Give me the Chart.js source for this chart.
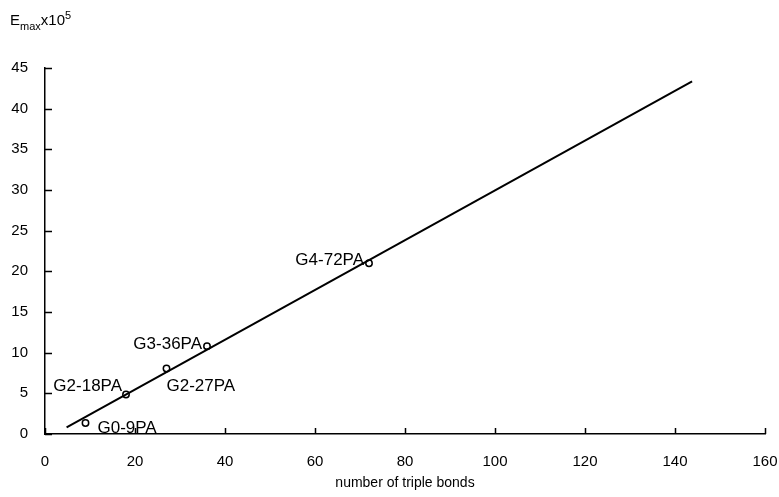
<!DOCTYPE html>
<html>
<head>
<meta charset="utf-8">
<script src="https://cdn.jsdelivr.net/npm/chart.js@4"></script>
<style>
  html, body { margin: 0; padding: 0; background: #fff; }
  #wrap { width: 779px; height: 497px; }
</style>
</head>
<body>
<div id="wrap"><canvas id="chart"></canvas></div>
<script>
// measured points
const sampleNames = ['G0-9PA', 'G2-18PA', 'G2-27PA', 'G3-36PA', 'G4-72PA'];
const tripleBonds = [9, 18, 27, 36, 72];
const emaxValues = [1.35, 4.85, 8.05, 10.8, 21.0];

// fitted line ends
const fitX = [4.8, 143.8];
const fitY = [0.8, 43.35];

const xTicks = [0, 20, 40, 60, 80, 100, 120, 140, 160];
const yTicks = [0, 5, 10, 15, 20, 25, 30, 35, 40, 45];

const FONT = '"Liberation Sans", Arial, sans-serif';

// where each label sits relative to its point: [dx, dy, align]
const labelPlace = [
  [12, 5, 'left'],
  [-4, -8, 'right'],
  [0, 18, 'left'],
  [-5, -2, 'right'],
  [-5, -2.5, 'right']
];

const extras = {
  id: 'extras',
  afterDraw(chart) {
    const ctx = chart.ctx;
    const xs = chart.scales.x, ys = chart.scales.y;
    const area = chart.chartArea;
    ctx.save();
    ctx.strokeStyle = '#000';
    ctx.lineWidth = 1.5;
    // inward ticks
    ctx.beginPath();
    xTicks.forEach(v => {
      const px = Math.round(xs.getPixelForValue(v)) + 0.5;
      ctx.moveTo(px, area.bottom);
      ctx.lineTo(px, area.bottom - 6);
    });
    yTicks.forEach(v => {
      const py = Math.round(ys.getPixelForValue(v)) + 0.5;
      ctx.moveTo(area.left, py);
      ctx.lineTo(area.left + 7, py);
    });
    ctx.stroke();

    // point labels
    ctx.fillStyle = '#000';
    ctx.font = '17px ' + FONT;
    ctx.textBaseline = 'middle';
    sampleNames.forEach((name, i) => {
      const px = xs.getPixelForValue(tripleBonds[i]);
      const py = ys.getPixelForValue(emaxValues[i]);
      const p = labelPlace[i];
      ctx.textAlign = p[2];
      ctx.fillText(name, px + p[0], py + p[1]);
    });

    // y axis title: E_max x10^5
    ctx.textAlign = 'left';
    ctx.textBaseline = 'alphabetic';
    let x = 10;
    ctx.font = '15px ' + FONT;
    ctx.fillText('E', x, 25);
    x += ctx.measureText('E').width;
    ctx.font = '11px ' + FONT;
    ctx.fillText('max', x, 30);
    x += ctx.measureText('max').width;
    ctx.font = '15px ' + FONT;
    ctx.fillText('x10', x, 25);
    x += ctx.measureText('x10').width;
    ctx.font = '11px ' + FONT;
    ctx.fillText('5', x, 19);
    ctx.restore();
  }
};

new Chart(document.getElementById('chart'), {
  type: 'scatter',
  data: {
    datasets: [
      {
        type: 'line',
        data: fitX.map((v, i) => ({ x: v, y: fitY[i] })),
        borderColor: '#000',
        borderWidth: 2,
        pointRadius: 0,
        fill: false
      },
      {
        data: tripleBonds.map((v, i) => ({ x: v, y: emaxValues[i] })),
        pointRadius: 3.2,
        pointBorderWidth: 1.5,
        pointBackgroundColor: '#fff',
        pointBorderColor: '#000'
      }
    ]
  },
  options: {
    responsive: true,
    maintainAspectRatio: false,
    animation: false,
    layout: { padding: { top: 68, right: 14, left: 0, bottom: 0 } },
    plugins: { legend: { display: false }, tooltip: { enabled: false } },
    scales: {
      x: {
        type: 'linear',
        min: 0, max: 160,
        afterBuildTicks: s => { s.ticks = xTicks.map(v => ({ value: v })); },
        afterFit: s => { s.height = 63; s.paddingLeft = 0; s.paddingRight = 0; },
        grid: { display: false, drawTicks: false },
        border: { display: true, color: '#000', width: 1.5 },
        ticks: { color: '#000', font: { family: FONT, size: 15 }, padding: 19, maxRotation: 0 },
        title: {
          display: true,
          text: 'number of triple bonds',
          color: '#000',
          font: { family: FONT, size: 14 },
          padding: { top: 2, bottom: 5 }
        }
      },
      y: {
        type: 'linear',
        min: 0, max: 45,
        afterBuildTicks: s => { s.ticks = yTicks.map(v => ({ value: v })); },
        afterFit: s => { s.width = 45; s.paddingTop = 0; s.paddingBottom = 0; },
        grid: { display: false, drawTicks: false },
        border: { display: true, color: '#000', width: 1.5 },
        ticks: { color: '#000', font: { family: FONT, size: 15 }, padding: 17 }
      }
    }
  },
  plugins: [extras]
});
</script>
</body>
</html>
